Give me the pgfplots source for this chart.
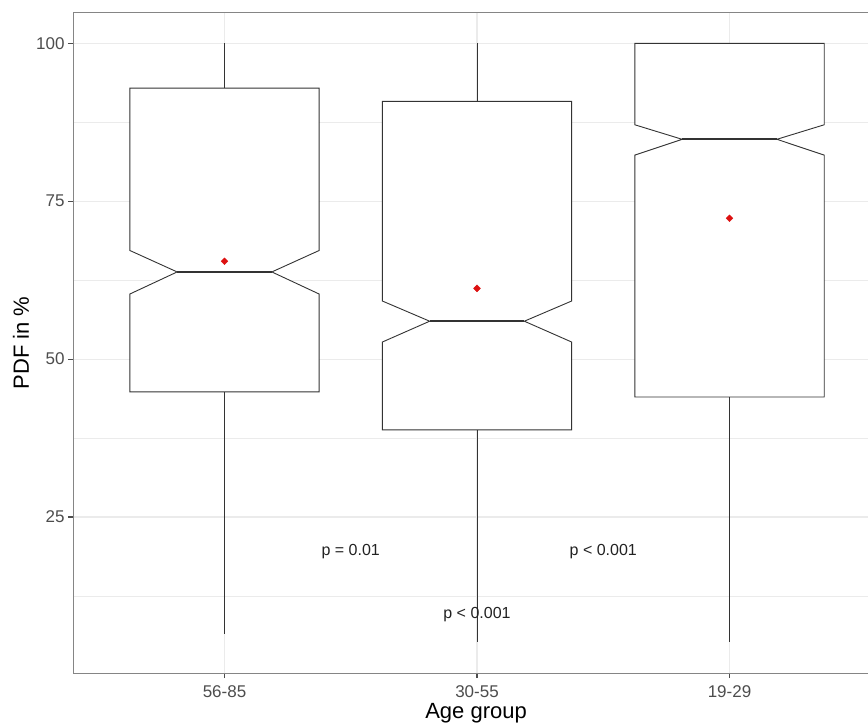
\documentclass[border=0pt]{standalone}
\usepackage{pgfplots}
\pgfplotsset{compat=1.18}
\usepackage{fontspec}
\setmainfont{Liberation Sans}
\definecolor{gridc}{HTML}{EBEBEB}
\definecolor{boxc}{HTML}{333333}
\definecolor{framec}{HTML}{858585}
\definecolor{tickc}{HTML}{4D4D4D}
\definecolor{meanc}{HTML}{DD1111}
\definecolor{annc}{HTML}{222222}
\begin{document}
\begin{tikzpicture}
\begin{axis}[
  at={(0,0)},
  scale only axis,
  width=795bp, height=660bp,
  xmin=0.4, xmax=3.5485, ymin=0.3, ymax=104.8,
  axis x line=box, axis y line*=left,
  xtick={1,2,3}, xticklabels={56-85,30-55,19-29},
  ytick={25,50,75,100},
  minor ytick={12.5,37.5,62.5,87.5},
  xtick pos=left, ytick pos=left,
  xmajorgrids, ymajorgrids, yminorgrids,
  major grid style={gridc, line width=1.1bp},
  minor grid style={gridc, line width=0.55bp},
  tick align=outside, major tick length=5bp, minor tick length=0pt,
  every tick/.style={tickc, line width=1.2bp},
  axis line style={framec, line width=1bp},
  /pgf/number format/assume math mode=true,
  ticklabel style={font=\fontsize{17bp}{20bp}\selectfont, text=tickc},
  xticklabel style={yshift=-4bp},
  xlabel={Age group}, ylabel={PDF in \%},
  every axis x label/.style={at={(axis description cs:0.507,0)}, anchor=center, yshift=-40bp, font=\fontsize{22bp}{26bp}\selectfont},
  every axis y label/.style={at={(axis description cs:0,0.5)}, anchor=center, rotate=90, yshift=52bp, font=\fontsize{22bp}{26bp}\selectfont},
]
% whiskers
\addplot[boxc, line width=0.9bp] coordinates {(1,92.9) (1,100)};
\addplot[boxc, line width=0.9bp] coordinates {(1,44.8) (1,6.5)};
\addplot[boxc, line width=0.9bp] coordinates {(2,90.8) (2,100)};
\addplot[boxc, line width=0.9bp] coordinates {(2,38.8) (2,5.2)};
\addplot[boxc, line width=0.9bp] coordinates {(3,44.0) (3,5.2)};
% notched boxes
\addplot[boxc, line width=0.9bp, fill=white] coordinates {
 (0.625,44.8) (0.625,60.3) (0.8125,63.8) (0.625,67.2) (0.625,92.9)
 (1.375,92.9) (1.375,67.2) (1.1875,63.8) (1.375,60.3) (1.375,44.8)} -- cycle;
\addplot[boxc, line width=0.9bp, fill=white] coordinates {
 (1.625,38.8) (1.625,52.7) (1.8125,56.0) (1.625,59.2) (1.625,90.8)
 (2.375,90.8) (2.375,59.2) (2.1875,56.0) (2.375,52.7) (2.375,38.8)} -- cycle;
\addplot[boxc, line width=0.9bp, fill=white] coordinates {
 (2.625,44.0) (2.625,82.3) (2.8125,84.8) (2.625,87.1) (2.625,100)
 (3.375,100) (3.375,87.1) (3.1875,84.8) (3.375,82.3) (3.375,44.0)} -- cycle;
% medians
\addplot[boxc, line width=2bp] coordinates {(0.8125,63.8) (1.1875,63.8)};
\addplot[boxc, line width=2bp] coordinates {(1.8125,56.0) (2.1875,56.0)};
\addplot[boxc, line width=2bp] coordinates {(2.8125,84.8) (3.1875,84.8)};
% means
\addplot[only marks, mark=square*, mark size=2.4bp, mark options={rotate=45}, color=meanc] coordinates {(1,65.5) (2,61.2) (3,72.3)};
% annotations
\node[font=\fontsize{16bp}{19bp}\selectfont, text=annc, yshift=-3bp] at (axis cs:1.5,20) {p = 0.01};
\node[font=\fontsize{16bp}{19bp}\selectfont, text=annc, yshift=-3bp] at (axis cs:2.5,20) {p < 0.001};
\node[font=\fontsize{16bp}{19bp}\selectfont, text=annc, yshift=-3bp] at (axis cs:2,10) {p < 0.001};
\coordinate (sw) at (rel axis cs:0,0);
\coordinate (ne) at (rel axis cs:1,1);
\end{axis}
\pgfresetboundingbox
\path[use as bounding box] ([shift={(-73bp,-51bp)}]sw) rectangle ([shift={(0bp,13bp)}]ne);
\end{tikzpicture}
\end{document}
